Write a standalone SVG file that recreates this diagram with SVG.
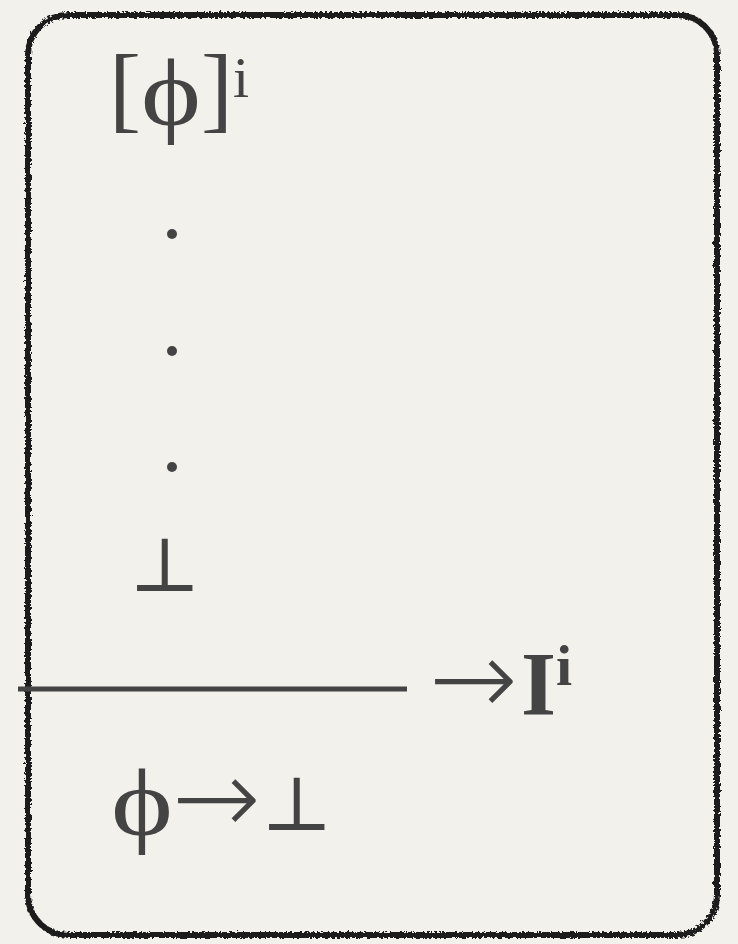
<svg xmlns="http://www.w3.org/2000/svg" width="738" height="944" viewBox="0 0 738 944">
<defs>
<filter id="rough" x="-5%" y="-5%" width="110%" height="110%">
<feTurbulence type="fractalNoise" baseFrequency="0.4" numOctaves="2" seed="3"/>
<feDisplacementMap in="SourceGraphic" scale="5"/>
</filter>
<style>
.t{font-family:"Liberation Serif","DejaVu Serif",serif;fill:#444;}
.a{font-family:"DejaVu Sans",sans-serif;font-weight:200;fill:#444;}
.b{font-weight:bold;}
</style>
</defs>
<rect x="0" y="0" width="738" height="944" fill="#f3f1ec"/>
<g id="frame">
<rect x="28" y="15" width="689" height="920" rx="40" ry="40" fill="none" stroke="#1e1e1e" stroke-width="6" filter="url(#rough)"/>
</g>
<g id="assumption">
<text class="t" y="120" font-size="96"><tspan x="109">[</tspan><tspan x="141" y="125" textLength="60" lengthAdjust="spacingAndGlyphs">ϕ</tspan><tspan x="201" y="120">]</tspan><tspan x="233" y="97" font-size="58">i</tspan></text>
</g>
<g id="dots">
<circle cx="172" cy="234" r="5" fill="#444"/>
<circle cx="172" cy="351" r="5" fill="#444"/>
<circle cx="172" cy="467" r="5" fill="#444"/>
</g>
<g id="bottom-premise">
<text class="t" x="129" y="591" font-size="76">⊥</text>
</g>
<g id="connectors">
<line x1="18" y1="689" x2="407" y2="689" stroke="#444" stroke-width="5"/>
</g>
<g id="rule-label">
<text y="711"><tspan class="a" x="429" y="715" font-size="106">→</tspan><tspan class="t b" x="521" font-size="90">I</tspan><tspan class="t b" x="556" y="685" font-size="58">i</tspan></text>
</g>
<g id="conclusion">
<text class="t" y="835" font-size="96"><tspan x="111" textLength="62" lengthAdjust="spacingAndGlyphs">ϕ</tspan><tspan class="a" x="172" y="834" font-size="106">→</tspan><tspan x="261" y="830" font-size="76">⊥</tspan></text>
</g>
</svg>
